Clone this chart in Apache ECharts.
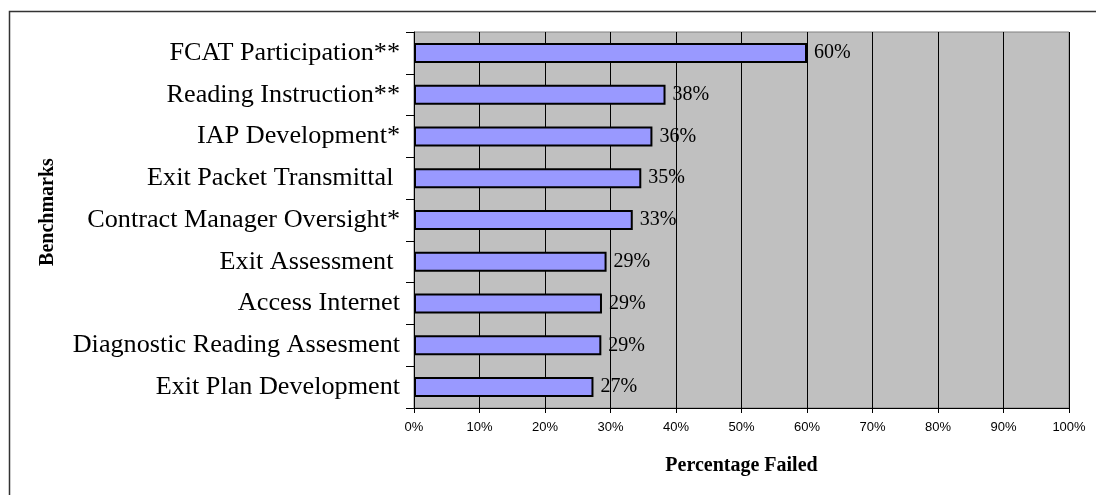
<!DOCTYPE html>
<html>
<head>
<meta charset="utf-8">
<script src="https://cdn.jsdelivr.net/npm/echarts@6/dist/echarts.min.js"></script>
<style>
html,body{margin:0;padding:0;background:#fff;}
#chart{width:1096px;height:495px;}
</style>
</head>
<body>
<div id="chart"></div>
<script>
const categories = [
  "FCAT Participation**",
  "Reading Instruction**",
  "IAP Development*",
  "Exit Packet Transmittal ",
  "Contract Manager Oversight*",
  "Exit Assessment ",
  "Access Internet",
  "Diagnostic Reading Assesment",
  "Exit Plan Development"
];
const failedPct = [60, 38.4, 36.4, 34.7, 33.4, 29.4, 28.7, 28.6, 27.4];
const xTicks = [0, 10, 20, 30, 40, 50, 60, 70, 80, 90, 100];

const chart = echarts.init(document.getElementById('chart'), null, {renderer: 'canvas'});
const serif = "'Liberation Serif', 'Times New Roman', serif";
const sans = "'Liberation Sans', Arial, sans-serif";

chart.setOption({
  animation: false,
  backgroundColor: '#ffffff',
  graphic: [{
    type: 'rect',
    shape: {x: 9.5, y: 11.5, width: 1100, height: 520},
    style: {fill: 'none', stroke: '#333333', lineWidth: 1.5},
    silent: true
  }],
  grid: {
    left: 414, top: 32, width: 655, height: 376,
    show: true, backgroundColor: '#C0C0C0', borderColor: '#808080', borderWidth: 1
  },
  xAxis: {
    type: 'value',
    min: xTicks[0], max: xTicks[xTicks.length - 1], interval: 10,
    axisLine: {show: true, lineStyle: {color: '#000', width: 1}},
    axisTick: {show: true, length: 5, lineStyle: {color: '#000'}},
    splitLine: {show: true, lineStyle: {color: '#000', width: 1}},
    axisLabel: {formatter: '{value}%', fontFamily: sans, fontSize: 13, color: '#000', margin: 13},
    name: 'Percentage Failed',
    nameLocation: 'middle',
    nameGap: 48,
    nameTextStyle: {fontFamily: serif, fontWeight: 'bold', fontSize: 20, color: '#000'}
  },
  yAxis: {
    type: 'category',
    inverse: true,
    data: categories,
    axisLine: {show: true, lineStyle: {color: '#000', width: 1}},
    axisTick: {show: true, length: 8, lineStyle: {color: '#000'}},
    splitLine: {show: false},
    axisLabel: {fontFamily: serif, fontSize: 26.2, color: '#000', margin: 14},
    name: 'Benchmarks',
    nameLocation: 'middle',
    nameGap: 356,
    nameRotate: 90,
    nameTextStyle: {fontFamily: serif, fontWeight: 'bold', fontSize: 20, color: '#000', padding: [0, 0, 0, 16]}
  },
  series: [{
    type: 'bar',
    data: failedPct,
    barWidth: 20,
    itemStyle: {color: '#9999FF', borderColor: '#000', borderWidth: 2},
    label: {
      show: true, position: 'right', distance: 7,
      formatter: p => Math.round(p.value) + '%',
      fontFamily: serif, fontSize: 20, color: '#000'
    }
  }]
});
</script>
</body>
</html>
